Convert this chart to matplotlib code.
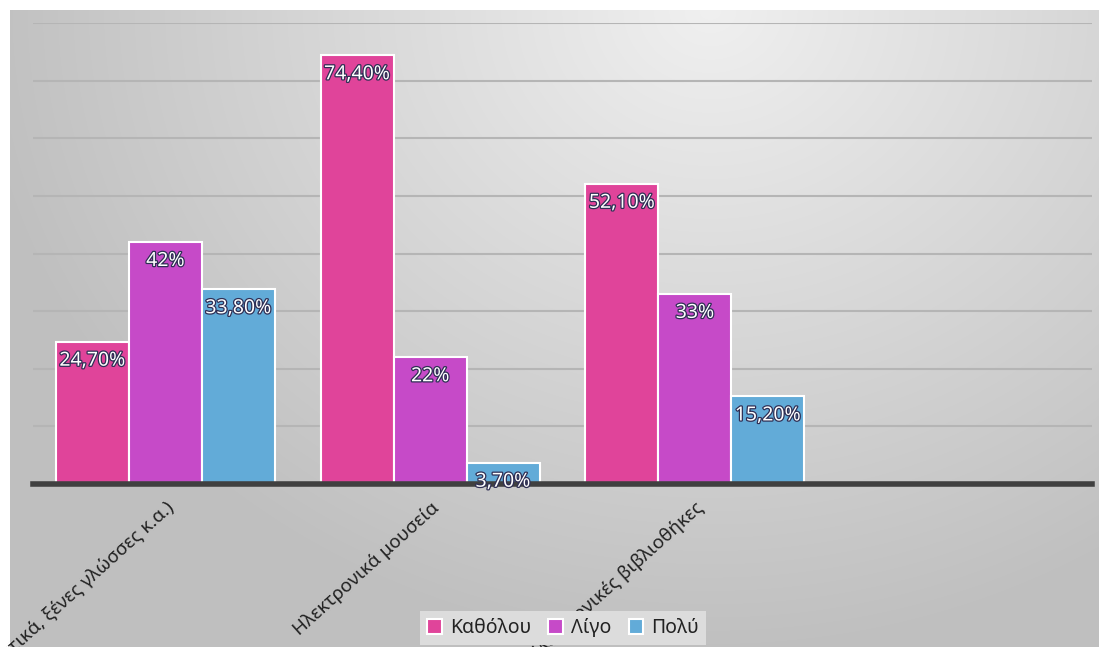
import numpy as np
import matplotlib
matplotlib.use("Agg")
import matplotlib.pyplot as plt
import matplotlib.patheffects as pe

categories = ["Εκπαιδευτικά λογισμικά (μαθηματικά, ξένες γλώσσες κ.α.)",
              "Ηλεκτρονικά μουσεία",
              "Ηλεκτρονικές βιβλιοθήκες",
              ""]
series_names = ["Καθόλου", "Λίγο", "Πολύ"]
katholou = [24.7, 74.4, 52.1]
ligo = [42, 22, 33]
poly = [33.8, 3.7, 15.2]
value_labels = [["24,70%", "74,40%", "52,10%"],
                ["42%", "22%", "33%"],
                ["33,80%", "3,70%", "15,20%"]]
colors = ["#E0449A", "#C64AC8", "#62ABD8"]

plt.rcParams['font.family'] = ['Noto Sans', 'DejaVu Sans']

W, H = 1099, 647
fig = plt.figure(figsize=(W / 100, H / 100), dpi=100, facecolor="white")

# background gradient
bg = fig.add_axes([10 / W, 0, 1 - 10 / W, 1 - 10 / H], zorder=0)
gh, gw = 637, 1089
yy, xx = np.mgrid[0:gh, 0:gw]
dist = np.sqrt((xx - 700.0) ** 2 + (yy * 1.15) ** 2)
val = 0.94 - 0.19 * np.clip(dist / 740.0, 0, 1)
bg.imshow(np.dstack([val, val, val]), aspect="auto", extent=[0, 1, 0, 1], origin="upper")
bg.set_axis_off()

ax = fig.add_axes([33 / W, (H - 484) / H, (1092 - 33) / W, (484 - 23) / H], zorder=1)
ax.patch.set_visible(False)

series = [katholou, ligo, poly]
bw = 0.2755
x = np.arange(3)
for i, (vals, col) in enumerate(zip(series, colors)):
    xs = x + (i - 1) * bw
    ax.bar(xs, vals, width=bw, color=col, edgecolor="white", linewidth=1.5,
           label=series_names[i], zorder=3)
    for xi, v, lab in zip(xs, vals, value_labels[i]):
        ax.annotate(lab, (xi, v), xytext=(0, -6.5), textcoords="offset points",
                    ha="center", va="top", color="white", fontsize=14,
                    fontweight="bold", zorder=5,
                    path_effects=[pe.withStroke(linewidth=1.8, foreground="#2f2f55")])

ax.set_xlim(-0.5, 3.5)
ax.set_ylim(0, 80)
ax.set_yticks(np.arange(10, 81, 10))
ax.yaxis.grid(True, color="#b5b5b5", linewidth=1.5, zorder=1)
ax.set_axisbelow(True)
ax.tick_params(axis="y", left=False, labelleft=False)
ax.tick_params(axis="x", bottom=False, pad=7)
for s in ["top", "right", "left"]:
    ax.spines[s].set_visible(False)
ax.spines["bottom"].set_color("#404040")
ax.spines["bottom"].set_linewidth(4)
ax.spines["bottom"].set_zorder(4)

ax.set_xticks(np.arange(4))
ax.set_xticklabels(categories, rotation=42, ha="right", va="top",
                   rotation_mode="anchor", fontsize=13.5, color="#222222")

leg = fig.legend(loc="lower center", bbox_to_anchor=(563 / W, -0.012), ncol=3,
                 fontsize=14, frameon=True, fancybox=False, handlelength=0.75,
                 handleheight=0.75, handletextpad=0.4, columnspacing=0.9,
                 borderpad=0.35)
leg.get_frame().set_facecolor("#dcdcdc")
leg.get_frame().set_edgecolor("none")
leg.get_frame().set_alpha(1)
leg.set_zorder(10)
for t in leg.get_texts():
    t.set_color("#222222")

fig.savefig("out.png", dpi=100, facecolor="white")
